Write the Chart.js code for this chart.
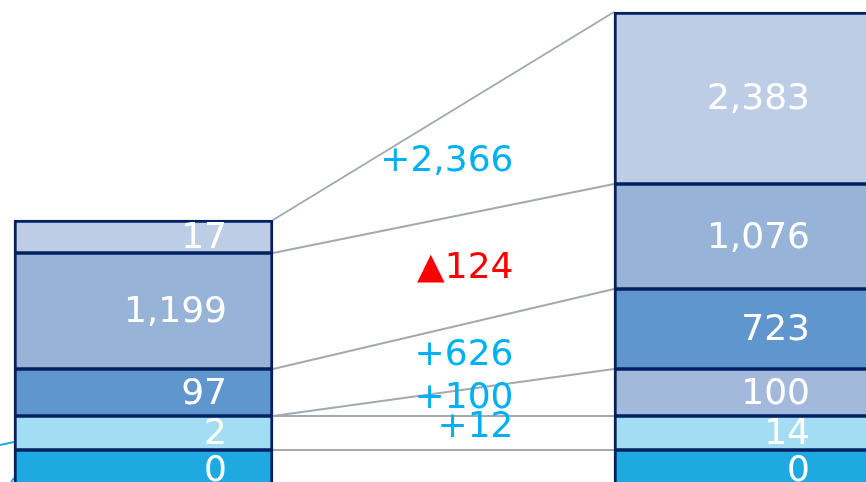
<!DOCTYPE html>
<html>
<head>
<meta charset="utf-8">
<script src="https://cdn.jsdelivr.net/npm/chart.js@4"></script>
<style>
  html, body { margin: 0; padding: 0; background: #fff; }
  .chart-container { position: relative; width: 866px; height: 482px; }
</style>
</head>
<body>
<div class="chart-container"><canvas id="myChart"></canvas></div>
<script>
"use strict";

// DATA
const periods = ["before", "after"];
// drawn segment heights (the slide is schematic, not to scale), bottom to top
const seg1 = [40, 40];
const seg2 = [34, 34];
const seg3 = [0, 47];
const seg4 = [47, 80];
const seg5 = [116, 105];
const seg6 = [33, 172];
// numbers printed in the segments
const val1 = [0, 0];
const val2 = [2, 14];
const val3 = [null, 100];
const val4 = [97, 723];
const val5 = [1199, 1076];
const val6 = [17, 2383];
// change labels between the two bars
const deltas = [null, "+12", "+100", "+626", "▲124", "+2,366"];

const heights = [seg1, seg2, seg3, seg4, seg5, seg6];
const values = [val1, val2, val3, val4, val5, val6];
const colors = ["#1EAAE1", "#A3DDF3", "#A3B9DC", "#6096CE", "#97B3D8", "#BDCDE6"];

const FONT = '36px "DejaVu Sans", Verdana, sans-serif';
const ctx = document.getElementById("myChart");

const fmt = (v) => v.toLocaleString("en-US");

// LINES + LABELS
const bridgePlugin = {
  id: "bridge",
  beforeDatasetsDraw(chart) {
    const c = chart.ctx;
    c.save();
    c.strokeStyle = "#A2AAB0";
    c.lineWidth = 2;
    chart.data.datasets.forEach((ds, i) => {
      const els = chart.getDatasetMeta(i).data;
      const l = els[0], r = els[1];
      c.beginPath();
      c.moveTo(l.x + l.width / 2, l.y);
      c.lineTo(r.x - r.width / 2, r.y);
      c.stroke();
    });
    // stubs of connectors coming from outside the crop on the left
    const first = chart.getDatasetMeta(0).data[0];
    const edge = first.x - first.width / 2;
    c.strokeStyle = "#1EAAE1";
    c.beginPath();
    c.moveTo(0, first.y - 5);
    c.lineTo(edge, first.y - 8);
    c.moveTo(edge - 3, first.y + 32);
    c.lineTo(edge, first.y + 28);
    c.stroke();
    c.restore();
  },
  afterDatasetsDraw(chart) {
    const c = chart.ctx;
    const inset = [46, 63];
    c.save();
    c.font = FONT;
    c.textAlign = "right";
    c.textBaseline = "alphabetic";
    chart.data.datasets.forEach((ds, i) => {
      const els = chart.getDatasetMeta(i).data;
      els.forEach((el, j) => {
        const v = values[i][j];
        if (v === null) return;
        const mid = (el.y + el.base) / 2;
        c.fillStyle = "#FFFFFF";
        c.fillText(fmt(v), el.x + el.width / 2 - inset[j], mid + 11);
      });
      const d = deltas[i];
      if (!d) return;
      const l = els[0], r = els[1];
      const y = ((l.y + l.base) / 2 + (r.y + r.base) / 2) / 2 - 7;
      const gapMid = (l.x + l.width / 2 + r.x - r.width / 2) / 2;
      c.fillStyle = d.startsWith("▲") ? "#FF0000" : "#00B0F0";
      c.fillText(d, gapMid + 70, y + 11);
    });
    c.restore();
  },
};

const chart = new Chart(ctx, {
  type: "bar",
  data: {
    labels: periods,
    datasets: heights.map((h, i) => ({
      label: "s" + (i + 1),
      data: h,
      backgroundColor: colors[i],
      borderColor: "#002060",
      borderWidth: { left: 3, right: 3, top: i === 5 ? 3 : 2, bottom: 2 },
      borderSkipped: false,
      barThickness: 259,
      clip: false,
    })),
  },
  options: {
    responsive: true,
    maintainAspectRatio: false,
    animation: false,
    layout: { padding: { left: 143.5, right: 122.5, top: 0, bottom: 0 } },
    plugins: {
      legend: { display: false },
      tooltip: { enabled: false },
    },
    scales: {
      x: { stacked: true, offset: false, display: false, grid: { display: false } },
      y: { stacked: true, min: 8, max: 490, display: false, grid: { display: false } },
    },
  },
  plugins: [bridgePlugin],
});
</script>
</body>
</html>
